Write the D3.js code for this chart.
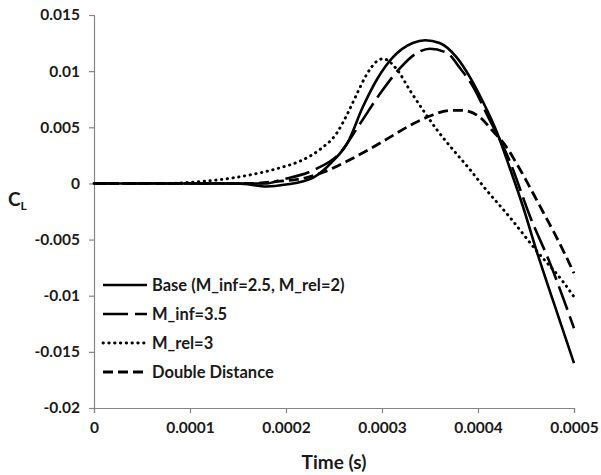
<!DOCTYPE html>
<html>
<head>
<meta charset="utf-8">
<script src="https://cdn.jsdelivr.net/npm/d3@7"></script>
<style>
  body { margin: 0; background: #fff; }
  svg text { font-family: Lato, "Open Sans", sans-serif; font-weight: bold; fill: #1a1a1a; }
</style>
</head>
<body>
<div id="chart"></div>
<script>
const width = 601;
const height = 475;
const margin = {left: 94, right: 27, top: 15, bottom: 67};

// tick values
const xTicks = [0, 0.0001, 0.0002, 0.0003, 0.0004, 0.0005];
const yTicks = [-0.02, -0.015, -0.01, -0.005, 0, 0.005, 0.01, 0.015];

// series: [time (s), CL]
const base = [
  [0, 0], [0.0001, 0], [0.00015, 0], [0.00018, -0.00027], [0.0002, -0.0001],
  [0.000228, 0.0005], [0.000249, 0.002], [0.000264, 0.0036], [0.00028, 0.0068],
  [0.000295, 0.0093], [0.000311, 0.0112], [0.000332, 0.0125], [0.000345, 0.01275],
  [0.00036, 0.0125], [0.000378, 0.0112], [0.000392, 0.0094], [0.000405, 0.0073],
  [0.00042, 0.0045], [0.000433, 0.0014], [0.000447, -0.0021], [0.000461, -0.006],
  [0.000478, -0.0104], [0.0005, -0.016]
];
const mInf35 = [
  [0, 0], [0.0001, 0], [0.00015, 0], [0.00018, 0], [0.000194, 0.0003],
  [0.000229, 0.0012], [0.000256, 0.0027], [0.000277, 0.0053], [0.000298, 0.008],
  [0.000319, 0.0103], [0.000336, 0.0116], [0.00035, 0.012], [0.000368, 0.0116],
  [0.000381, 0.0103], [0.000395, 0.0086], [0.000409, 0.0062], [0.000433, 0.002],
  [0.000454, -0.0029], [0.000475, -0.0071], [0.0005, -0.0129]
];
const mRel3 = [
  [0, 0], [0.00008, 0], [0.0001, 0.0001], [0.000124, 0.00027], [0.000159, 0.0007],
  [0.000194, 0.0014], [0.000215, 0.002], [0.000235, 0.003], [0.000253, 0.0045],
  [0.000264, 0.0062], [0.000274, 0.008], [0.000284, 0.0097], [0.000295, 0.0109],
  [0.000301, 0.0111], [0.000316, 0.0101], [0.000329, 0.0083], [0.000343, 0.0065],
  [0.000357, 0.0048], [0.000374, 0.003], [0.000392, 0.0012], [0.000405, -0.0002],
  [0.000433, -0.003], [0.000461, -0.006], [0.000489, -0.0088], [0.0005, -0.0101]
];
const doubleDist = [
  [0, 0], [0.0001, 0], [0.00016, 0], [0.000194, 0.0002], [0.000215, 0.0004],
  [0.000239, 0.001], [0.000264, 0.002], [0.000288, 0.0031], [0.000308, 0.0041],
  [0.000332, 0.0053], [0.00035, 0.006], [0.000371, 0.0065], [0.000384, 0.0065],
  [0.000402, 0.0059], [0.000414, 0.0048], [0.00043, 0.0032], [0.00044, 0.0018],
  [0.00045, 0.0003], [0.00046, -0.0013], [0.00047, -0.0029], [0.00048, -0.0045],
  [0.00049, -0.0062], [0.0005, -0.008]
];

const seriesNames = ["Base (M_inf=2.5, M_rel=2)", "M_inf=3.5", "M_rel=3", "Double Distance"];
const seriesData = [base, mInf35, mRel3, doubleDist];
const seriesStyle = [
  {w: 2.6, dash: null, cap: "butt"},
  {w: 2.6, dash: "25,7", cap: "butt"},
  {w: 2.9, dash: "0.4,5.4", cap: "round"},
  {w: 2.8, dash: "10,5", cap: "butt"}
];

const svg = d3.select("#chart")
    .append("svg")
    .attr("width", width)
    .attr("height", height);

const xScale = d3.scaleLinear()
    .domain([0, 0.0005])
    .range([margin.left, width - margin.right]);
const yScale = d3.scaleLinear()
    .domain([-0.02, 0.015])
    .range([height - margin.bottom, margin.top]);

const fmt = d => d === 0 ? "0" : String(+d.toFixed(4));

const xAxis = d3.axisBottom(xScale)
    .tickValues(xTicks)
    .tickFormat(fmt)
    .tickSize(5)
    .tickPadding(9);
const yAxis = d3.axisLeft(yScale)
    .tickValues(yTicks)
    .tickFormat(fmt)
    .tickSize(5)
    .tickPadding(9);

const gx = svg.append("g")
    .attr("transform", `translate(0,${height - margin.bottom})`)
    .call(xAxis);
const gy = svg.append("g")
    .attr("transform", `translate(${margin.left},0)`)
    .call(yAxis);

[gx, gy].forEach(g => {
  g.select(".domain").attr("stroke", "#868686").attr("stroke-width", 1.2);
  g.selectAll(".tick line").attr("stroke", "#868686").attr("stroke-width", 1.2);
  g.selectAll(".tick text").attr("font-size", 15.5).attr("fill", "#1a1a1a");
});

// lines
const line = d3.line()
    .x(d => xScale(d[0]))
    .y(d => yScale(d[1]))
    .curve(d3.curveMonotoneX);

svg.append("g")
    .selectAll("path")
    .data(seriesData)
    .enter()
    .append("path")
    .attr("d", line)
    .attr("fill", "none")
    .attr("stroke", "#000")
    .attr("stroke-width", (d, i) => seriesStyle[i].w)
    .attr("stroke-dasharray", (d, i) => seriesStyle[i].dash)
    .attr("stroke-linecap", (d, i) => seriesStyle[i].cap);

// legend
const legend = svg.append("g")
    .attr("transform", "translate(103,285)");
const rows = legend.selectAll("g")
    .data(seriesNames)
    .enter()
    .append("g")
    .attr("transform", (d, i) => `translate(0,${i * 29})`);
rows.append("line")
    .attr("x1", 0).attr("x2", 44)
    .attr("stroke", "#000")
    .attr("stroke-width", (d, i) => seriesStyle[i].w)
    .attr("stroke-dasharray", (d, i) => seriesStyle[i].dash)
    .attr("stroke-linecap", (d, i) => seriesStyle[i].cap);
rows.append("text")
    .attr("x", 49)
    .attr("dy", "0.35em")
    .attr("font-size", 16.5)
    .text(d => d);

// axis titles
svg.append("text")
    .attr("x", (margin.left + width - margin.right) / 2)
    .attr("y", 469)
    .attr("text-anchor", "middle")
    .attr("font-size", 19)
    .text("Time (s)");

const cl = svg.append("text")
    .attr("x", 8)
    .attr("y", 206)
    .attr("font-size", 19)
    .text("C");
cl.append("tspan")
    .attr("font-size", 12)
    .attr("dy", 4)
    .text("L");
</script>
</body>
</html>
